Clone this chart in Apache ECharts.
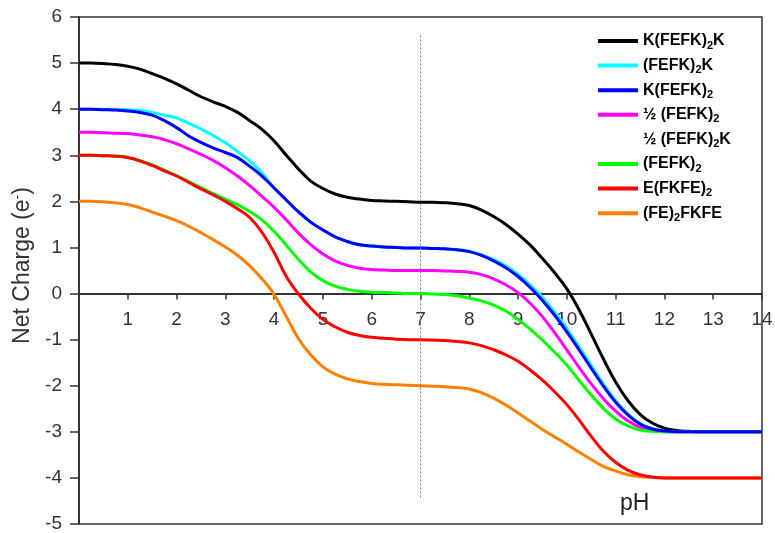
<!DOCTYPE html>
<html>
<head>
<meta charset="utf-8">
<script src="https://cdn.jsdelivr.net/npm/echarts@6/dist/echarts.min.js"></script>
<style>
html,body{margin:0;padding:0;background:#fff;}
#c{width:775px;height:533px;}
</style>
</head>
<body>
<div id="c"></div>
<script>
// pH grid
const pH = [0,0.25,0.5,0.75,1,1.25,1.5,1.75,2,2.25,2.5,2.75,3,3.25,3.5,3.75,4,4.25,4.5,4.75,5,5.25,5.5,5.75,6,6.25,6.5,6.75,7,7.25,7.5,7.75,8,8.25,8.5,8.75,9,9.25,9.5,9.75,10,10.25,10.5,10.75,11,11.25,11.5,11.75,12,12.25,12.5,12.75,13,13.25,13.5,13.75,14];

// Net charge series (e-)
const K_FEFK2_K  = [5.00,5.00,4.99,4.97,4.93,4.87,4.77,4.67,4.55,4.41,4.27,4.16,4.06,3.93,3.75,3.56,3.31,3.00,2.70,2.44,2.28,2.16,2.09,2.05,2.02,2.01,2.00,1.99,1.98,1.98,1.97,1.95,1.91,1.81,1.67,1.50,1.29,1.05,0.76,0.45,0.10,-0.35,-0.88,-1.42,-1.92,-2.32,-2.62,-2.81,-2.92,-2.97,-2.99,-3.00,-3.00,-3.00,-3.00,-3.00,-3.00];
const FEFK2_K    = [4.00,4.00,4.00,4.00,3.99,3.97,3.93,3.87,3.81,3.70,3.57,3.43,3.27,3.08,2.88,2.62,2.29,2.03,1.77,1.55,1.38,1.23,1.13,1.06,1.03,1.01,1.00,0.99,0.99,0.98,0.97,0.95,0.92,0.84,0.74,0.60,0.42,0.19,-0.08,-0.40,-0.76,-1.15,-1.56,-1.96,-2.32,-2.61,-2.82,-2.93,-2.98,-3.00,-3.00,-3.00,-3.00,-3.00,-3.00,-3.00,-3.00];
const K_FEFK2    = [4.00,4.00,3.99,3.98,3.96,3.93,3.87,3.75,3.60,3.42,3.28,3.16,3.06,2.95,2.76,2.55,2.29,2.03,1.77,1.55,1.38,1.23,1.13,1.06,1.03,1.01,1.00,0.99,0.99,0.98,0.97,0.95,0.91,0.83,0.71,0.56,0.37,0.13,-0.15,-0.47,-0.83,-1.22,-1.62,-2.01,-2.36,-2.63,-2.83,-2.94,-2.98,-3.00,-3.00,-3.00,-3.00,-3.00,-3.00,-3.00,-3.00];
const HALF_FEFK2 = [3.50,3.50,3.49,3.48,3.47,3.44,3.40,3.34,3.25,3.14,3.02,2.89,2.73,2.55,2.34,2.11,1.87,1.60,1.31,1.06,0.86,0.71,0.61,0.55,0.52,0.51,0.50,0.50,0.50,0.50,0.49,0.48,0.46,0.41,0.32,0.19,0.02,-0.21,-0.50,-0.85,-1.22,-1.60,-1.96,-2.28,-2.55,-2.76,-2.90,-2.97,-3.00,-3.00,-3.00,-3.00,-3.00,-3.00,-3.00,-3.00,-3.00];
const HALF_FEFK2_K = [];
const FEFK2      = [3.00,3.00,2.99,2.98,2.95,2.88,2.79,2.68,2.56,2.43,2.30,2.17,2.05,1.93,1.78,1.60,1.35,1.05,0.74,0.47,0.28,0.16,0.09,0.05,0.03,0.02,0.01,0.00,0.00,-0.01,-0.02,-0.05,-0.10,-0.16,-0.25,-0.38,-0.56,-0.77,-1.01,-1.27,-1.55,-1.88,-2.20,-2.49,-2.72,-2.87,-2.96,-2.99,-3.00,-3.00,-3.00,-3.00,-3.00,-3.00,-3.00,-3.00,-3.00];
const E_FKFE2    = [3.00,3.00,2.99,2.98,2.95,2.88,2.78,2.66,2.55,2.41,2.27,2.14,2.00,1.84,1.65,1.33,0.89,0.37,-0.01,-0.32,-0.56,-0.72,-0.84,-0.91,-0.95,-0.97,-0.99,-1.00,-1.00,-1.01,-1.02,-1.04,-1.07,-1.13,-1.22,-1.33,-1.47,-1.66,-1.88,-2.13,-2.41,-2.74,-3.10,-3.42,-3.66,-3.83,-3.93,-3.98,-4.00,-4.00,-4.00,-4.00,-4.00,-4.00,-4.00,-4.00,-4.00];
const FE2_FKFE   = [2.00,2.00,1.99,1.97,1.93,1.86,1.77,1.68,1.58,1.46,1.32,1.17,1.01,0.83,0.60,0.32,-0.02,-0.50,-0.98,-1.33,-1.59,-1.75,-1.85,-1.91,-1.95,-1.97,-1.98,-1.99,-2.00,-2.01,-2.02,-2.04,-2.07,-2.15,-2.27,-2.42,-2.59,-2.77,-2.95,-3.11,-3.27,-3.44,-3.60,-3.75,-3.85,-3.93,-3.97,-3.99,-4.00,-4.00,-4.00,-4.00,-4.00,-4.00,-4.00,-4.00,-4.00];

// axis ticks
const yTicks = [-5,-4,-3,-2,-1,0,1,2,3,4,5,6];
const xTicks = [0,1,2,3,4,5,6,7,8,9,10,11,12,13,14];
// dashed reference line at pH 7
const refPH = 7, refTop = 5.6, refBottom = -4.45;

const FONT = "'Liberation Sans', Arial, sans-serif";

const legendNames = ['K(FEFK)2K','(FEFK)2K','K(FEFK)2','½ (FEFK)2','½ (FEFK)2K','(FEFK)2','E(FKFE)2','(FE)2FKFE'];
const legendRich = {
  'K(FEFK)2K': '{t|K(FEFK)}{s|2}{t|K}',
  '(FEFK)2K': '{t|(FEFK)}{s|2}{t|K}',
  'K(FEFK)2': '{t|K(FEFK)}{s|2}',
  '½ (FEFK)2': '{t|½ (FEFK)}{s|2}',
  '½ (FEFK)2K': '{t|½ (FEFK)}{s|2}{t|K}',
  '(FEFK)2': '{t|(FEFK)}{s|2}',
  'E(FKFE)2': '{t|E(FKFE)}{s|2}',
  '(FE)2FKFE': '{t|(FE)}{s|2}{t|FKFE}'
};

function pts(arr){ return arr.map((v,i)=>[pH[i], v]); }

function mk(name, arr, color, extra){
  const s = {
    name: name, type: 'line', data: pts(arr),
    smooth: 0.4, showSymbol: false, symbol: 'none',
    lineStyle: {color: color, width: 3},
    itemStyle: {color: color},
    emphasis: {disabled: true}
  };
  return Object.assign(s, extra || {});
}

const series = [
  mk('(FEFK)2K', FEFK2_K, '#00FFFF'),
  mk('K(FEFK)2K', K_FEFK2_K, '#000000', {
    markLine: {
      silent: true, symbol: ['none','none'], label: {show: false},
      lineStyle: {color: '#777', type: [2,2], width: 1},
      data: [[{coord: [refPH, refTop]}, {coord: [refPH, refBottom]}]]
    }
  }),
  mk('½ (FEFK)2', HALF_FEFK2, '#FF00FF'),
  mk('½ (FEFK)2K', HALF_FEFK2_K, 'rgba(0,0,0,0)'),
  mk('(FEFK)2', FEFK2, '#00FF00'),
  mk('(FE)2FKFE', FE2_FKFE, '#FF8000'),
  mk('E(FKFE)2', E_FKFE2, '#FF0000'),
  mk('K(FEFK)2', K_FEFK2, '#0000FF')
];

const GRID = {left: 79, right: 13, top: 17, bottom: 9};
const plotH = 533 - GRID.top - GRID.bottom;
const yMin = yTicks[0], yMax = yTicks[yTicks.length-1];
// shift the x axis up from the bottom edge to the y = 0 line
const xAxisOffset = -plotH * (0 - yMin) / (yMax - yMin);

const chart = echarts.init(document.getElementById('c'), null, {renderer: 'canvas'});
chart.setOption({
  animation: false,
  backgroundColor: '#fff',
  grid: Object.assign({show: true, borderColor: '#333', borderWidth: 1.5, backgroundColor: 'transparent', outerBoundsMode: 'none', containLabel: false}, GRID),
  legend: {
    orient: 'vertical', left: 598, top: 33, padding: 0,
    itemWidth: 40, itemHeight: 4, itemGap: 6.6, icon: 'rect',
    selectedMode: false,
    data: legendNames,
    formatter: n => legendRich[n],
    textStyle: {
      color: '#000', fontFamily: FONT,
      rich: {
        t: {fontSize: 16, fontWeight: 'bold', lineHeight: 20, color: '#000', fontFamily: FONT},
        s: {fontSize: 11, fontWeight: 'bold', lineHeight: 11, verticalAlign: 'bottom', color: '#000', fontFamily: FONT}
      }
    }
  },
  xAxis: {
    type: 'value', min: xTicks[0], max: xTicks[xTicks.length-1], interval: 1,
    position: 'bottom', offset: xAxisOffset,
    axisLine: {onZero: false, lineStyle: {color: '#333', width: 2}},
    axisTick: {show: true, length: 6, lineStyle: {color: '#333', width: 1.5}},
    axisLabel: {
      margin: 17, fontSize: 19, color: '#333', fontFamily: FONT,
      formatter: v => (v === 0 ? '' : String(v))
    },
    splitLine: {show: false}
  },
  yAxis: {
    type: 'value', min: yMin, max: yMax, interval: 1,
    name: 'Net Charge (e{sup|-})', nameLocation: 'middle', nameGap: 44,
    nameTextStyle: {
      fontSize: 23, color: '#333', fontFamily: FONT, padding: [0,0,0,10],
      rich: {sup: {fontSize: 14, verticalAlign: 'top', lineHeight: 14, color: '#333', fontFamily: FONT}}
    },
    axisLine: {show: true, onZero: false, lineStyle: {color: '#333', width: 2}},
    axisTick: {show: true, inside: false, length: 9, lineStyle: {color: '#333', width: 1.5}},
    axisLabel: {margin: 17, fontSize: 19, color: '#333', fontFamily: FONT},
    splitLine: {show: false}
  },
  graphic: [{
    type: 'text', left: 620, top: 492,
    style: {text: 'pH', fontSize: 23, fill: '#222', fontFamily: FONT}
  }],
  series: series
});
</script>
</body>
</html>
